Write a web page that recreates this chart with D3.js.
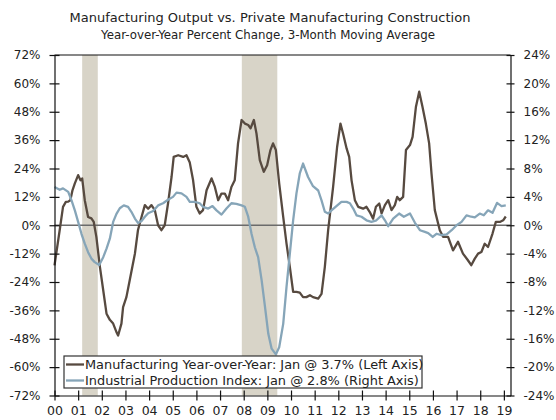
<!DOCTYPE html>
<html>
<head>
<meta charset="utf-8">
<script src="https://cdn.jsdelivr.net/npm/d3@7"></script>
<style>
  html, body { margin: 0; padding: 0; background: #fff; }
  svg { display: block; font-family: "DejaVu Sans", Verdana, sans-serif; }
</style>
</head>
<body>
<svg id="chart" width="556" height="420"></svg>
<script>
const titleText = "Manufacturing Output vs. Private Manufacturing Construction";
const subtitleText = "Year-over-Year Percent Change, 3-Month Moving Average";

const yearTicks = [2000,2001,2002,2003,2004,2005,2006,2007,2008,2009,2010,2011,2012,2013,2014,2015,2016,2017,2018,2019];
const leftTicks = [72,60,48,36,24,12,0,-12,-24,-36,-48,-60,-72];
const rightTicks = [24,20,16,12,8,4,0,-4,-8,-12,-16,-20,-24];

const recessionStarts = [2001.17, 2007.92];
const recessionEnds = [2001.83, 2009.42];

const seriesNames = [
  "Manufacturing Year-over-Year: Jan @ 3.7% (Left Axis)",
  "Industrial Production Index: Jan @ 2.8% (Right Axis)"
];

// Manufacturing construction, YoY % (left axis)
const mfgYears = [2000.00,2000.22,2000.36,2000.48,2000.58,2000.67,2000.76,2000.86,2001.00,2001.10,2001.17,2001.28,2001.42,2001.56,2001.66,2001.77,2001.92,2002.06,2002.20,2002.34,2002.48,2002.62,2002.69,2002.83,2002.90,2003.04,2003.18,2003.40,2003.53,2003.68,2003.82,2003.96,2004.10,2004.24,2004.38,2004.52,2004.66,2004.80,2004.95,2005.04,2005.23,2005.44,2005.58,2005.72,2005.86,2006.00,2006.14,2006.28,2006.43,2006.64,2006.78,2006.92,2007.06,2007.20,2007.34,2007.48,2007.62,2007.76,2007.91,2008.05,2008.19,2008.29,2008.43,2008.54,2008.68,2008.85,2008.99,2009.13,2009.24,2009.36,2009.50,2009.67,2009.81,2009.95,2010.09,2010.23,2010.37,2010.51,2010.65,2010.80,2010.93,2011.15,2011.29,2011.43,2011.57,2011.78,2011.95,2012.09,2012.20,2012.35,2012.46,2012.56,2012.70,2012.84,2013.05,2013.19,2013.33,2013.47,2013.59,2013.73,2013.83,2013.97,2014.11,2014.25,2014.39,2014.49,2014.60,2014.74,2014.86,2015.03,2015.14,2015.28,2015.42,2015.56,2015.70,2015.84,2015.94,2016.08,2016.29,2016.43,2016.64,2016.85,2017.06,2017.27,2017.48,2017.62,2017.77,2017.91,2018.05,2018.19,2018.33,2018.52,2018.66,2018.83,2018.97,2019.08];
const mfgValues = [-17,-2,7.8,9.9,10,10.6,14.8,17.7,21.2,19,19.8,10.6,3.5,2.9,1.4,-4.9,-17.6,-27.5,-37.4,-40,-41.6,-45.2,-46.6,-41.6,-34.6,-30.4,-23.3,-12,-2,3.5,8.5,7,8.5,6.4,0,-2.1,0,9.2,20.5,28.9,29.6,28.9,29.6,26.5,19,7.8,5,6.4,14.8,19.8,16.2,10.6,13.4,13.4,10.6,16.2,19,34.6,44.5,43,42.4,41,44.5,38.8,27.5,22.6,25.4,31.8,34.6,31.8,17.7,3.5,-7.8,-17.6,-28.2,-28.2,-28.5,-30.4,-30.4,-29.6,-30.4,-31,-29,-17.6,-2.1,16.2,33.2,43,38.8,32.5,28.9,19,10.6,7.8,7,7.8,5.6,2.8,7.8,9.2,5,8.5,10.6,6.4,8.5,12,10.6,12,31.8,33.9,37.4,50,56.5,50,43,34.6,21.9,6.4,-2.1,-4.9,-4.9,-10.6,-7,-12,-14.8,-16.9,-14.1,-12,-11.3,-7.8,-9.2,-3.5,1.4,1.4,2.1,3.7];

// Industrial production index, YoY % (right axis)
const ipYears = [2000.00,2000.22,2000.36,2000.58,2000.72,2000.86,2001.00,2001.14,2001.28,2001.42,2001.56,2001.70,2001.89,2002.06,2002.20,2002.34,2002.48,2002.62,2002.76,2002.93,2003.11,2003.25,2003.40,2003.53,2003.68,2003.82,2003.96,2004.17,2004.38,2004.59,2004.80,2005.01,2005.16,2005.37,2005.58,2005.72,2005.93,2006.14,2006.28,2006.50,2006.68,2006.85,2007.06,2007.27,2007.48,2007.69,2007.91,2008.05,2008.19,2008.33,2008.47,2008.61,2008.76,2008.90,2009.04,2009.18,2009.36,2009.50,2009.67,2009.81,2009.95,2010.09,2010.23,2010.37,2010.51,2010.72,2010.93,2011.15,2011.29,2011.43,2011.57,2011.71,2011.92,2012.13,2012.35,2012.49,2012.63,2012.77,2012.98,2013.19,2013.40,2013.61,2013.83,2013.97,2014.11,2014.32,2014.57,2014.77,2015.03,2015.24,2015.45,2015.66,2015.80,2015.99,2016.15,2016.36,2016.58,2016.79,2017.00,2017.21,2017.42,2017.62,2017.77,2017.98,2018.15,2018.33,2018.52,2018.71,2018.90,2019.08];
const ipValues = [5.4,5.0,5.2,4.7,3.5,2.1,0.47,-1.2,-2.6,-3.8,-4.7,-5.2,-5.6,-4.5,-3.3,-1.9,0.47,1.6,2.4,2.8,2.6,1.9,0.94,0.33,0.6,1.2,1.7,2.0,2.8,3.1,3.6,4.0,4.6,4.5,4.0,3.3,3.3,3.1,2.6,2.35,2.7,2.1,1.5,2.35,3.1,3.0,2.8,2.6,1.2,-1.2,-3.1,-4.5,-7.8,-11.5,-15.3,-17.4,-18.2,-17.2,-13.9,-8.7,-4.0,0.7,4.5,7.3,8.7,6.8,5.5,4.9,3.5,1.9,1.65,2.1,2.7,3.3,3.3,3.1,2.35,1.4,1.2,0.7,0.47,0.7,1.4,0.7,-0.14,0.94,1.65,1.2,1.65,0.35,-0.7,-0.94,-1.1,-1.65,-1.2,-1.4,-1.3,-0.7,0,0.47,1.4,1.2,1.1,1.65,1.4,2.1,1.75,3.15,2.7,2.8];

const svg = d3.select("#chart");
const plotLeft = 54.5, plotRight = 510.5, plotTop = 55, plotBottom = 395.5;

const x = d3.scaleLinear().domain([2000, 2019.28]).range([plotLeft, plotRight]);
const yL = d3.scaleLinear().domain([-72, 72]).range([plotBottom, plotTop]);
const yR = d3.scaleLinear().domain([-24, 24]).range([plotBottom, plotTop]);

const textColor = "#222";

// Title
svg.append("text").attr("x", 270).attr("y", 22).attr("text-anchor", "middle")
  .attr("font-size", 13).attr("fill", textColor).text(titleText);
svg.append("text").attr("x", 268).attr("y", 38.5).attr("text-anchor", "middle")
  .attr("font-size", 11.8).attr("fill", textColor).text(subtitleText);

// Recession shading
svg.append("g").selectAll("rect").data(recessionStarts).join("rect")
  .attr("x", (d) => x(d))
  .attr("width", (d, i) => x(recessionEnds[i]) - x(d))
  .attr("y", plotTop).attr("height", plotBottom - plotTop)
  .attr("fill", "#d8d4c8");

// Zero line
svg.append("line").attr("x1", plotLeft).attr("x2", plotRight)
  .attr("y1", yL(0)).attr("y2", yL(0))
  .attr("stroke", "#6b6b6b").attr("stroke-width", 1.5);

// Lines
const mfgData = mfgYears.map((d, i) => [d, mfgValues[i]]);
const ipData = ipYears.map((d, i) => [d, ipValues[i]]);

svg.append("path").datum(mfgData)
  .attr("fill", "none").attr("stroke", "#574a40").attr("stroke-width", 2.3)
  .attr("stroke-linejoin", "round")
  .attr("d", d3.line().x(d => x(d[0])).y(d => yL(d[1])));

svg.append("path").datum(ipData)
  .attr("fill", "none").attr("stroke", "#86a5b8").attr("stroke-width", 2.3)
  .attr("stroke-linejoin", "round")
  .attr("d", d3.line().x(d => x(d[0])).y(d => yR(d[1])));

// Frame top line
svg.append("line").attr("x1", plotLeft).attr("x2", plotRight).attr("y1", plotTop).attr("y2", plotTop)
  .attr("stroke", "#111").attr("stroke-width", 1.2);

// Axes
const leftAxis = d3.axisLeft(yL).tickValues(leftTicks).tickFormat(d => d + "%")
  .tickSizeInner(5).tickSizeOuter(0).tickPadding(9);
const gL = svg.append("g").attr("transform", `translate(${plotLeft},0)`).call(leftAxis);

const rightAxis = d3.axisRight(yR).tickValues(rightTicks).tickFormat(d => d + "%")
  .tickSizeInner(4).tickSizeOuter(0).tickPadding(9);
const gR = svg.append("g").attr("transform", `translate(${plotRight},0)`).call(rightAxis);

const bottomAxis = d3.axisBottom(x).tickValues(yearTicks)
  .tickFormat(d => String(d).slice(2)).tickSizeInner(5).tickSizeOuter(0).tickPadding(6);
const gB = svg.append("g").attr("transform", `translate(0,${plotBottom})`).call(bottomAxis);

[gL, gR, gB].forEach(g => {
  g.select(".domain").attr("stroke", "#111").attr("stroke-width", 1.2);
  g.selectAll(".tick line").attr("stroke", "#111").attr("stroke-width", 1.2);
  g.selectAll(".tick text").attr("fill", textColor).attr("font-size", 12)
    .attr("font-family", '"DejaVu Sans", Verdana, sans-serif');
});
gL.selectAll(".tick line").attr("x1", 5).attr("x2", -5);
gR.selectAll(".tick line").attr("x1", -4).attr("x2", 4);
gB.selectAll(".tick line").attr("y1", -5).attr("y2", 5);
gB.selectAll(".tick text").attr("font-size", 12.5);

// Legend
const legend = svg.append("g");
legend.append("rect").attr("x", 64).attr("y", 356).attr("width", 358).attr("height", 32)
  .attr("fill", "#fff").attr("stroke", "#333").attr("stroke-width", 1.2);
const legendColors = ["#574a40", "#86a5b8"];
const legendY = [364.5, 380.5];
seriesNames.forEach((name, i) => {
  legend.append("line").attr("x1", 66).attr("x2", 84)
    .attr("y1", legendY[i]).attr("y2", legendY[i])
    .attr("stroke", legendColors[i]).attr("stroke-width", 2.3);
  legend.append("text").attr("x", 85).attr("y", legendY[i] + 4.5)
    .attr("font-size", 12.9).attr("fill", textColor).text(name);
});
</script>
</body>
</html>
